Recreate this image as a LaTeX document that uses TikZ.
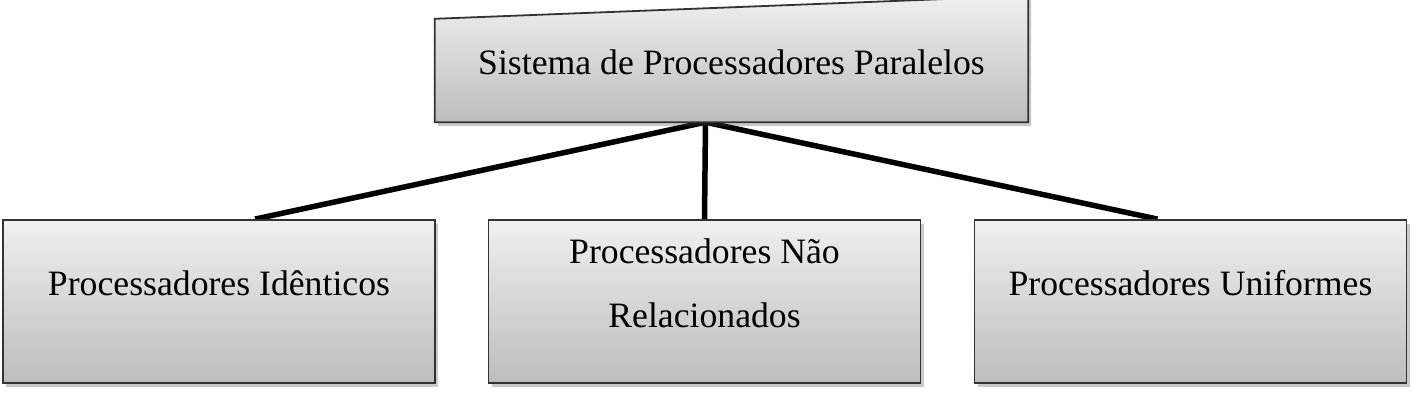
\documentclass[tikz,border=0pt]{standalone}
\usepackage{fontspec}
\setmainfont{Liberation Serif}
\usetikzlibrary{shadows,calc,backgrounds}
\begin{document}
\begin{tikzpicture}[x=1pt,y=-1pt,
  box/.style={draw=black!80, line width=1.8pt, top color=gray!12, bottom color=gray!52,
    minimum width=432pt, minimum height=163pt, inner sep=0pt, align=center,
    font=\fontsize{35.7}{64}\selectfont,
    drop shadow={shadow xshift=3pt, shadow yshift=-4pt, opacity=0.3, fill=black!70}},
  link/.style={line width=5.5pt}]
\useasboundingbox (0,0) rectangle (1425,402);
\node [minimum width=593pt, minimum height=103pt, inner sep=0pt, text height=24pt, text depth=17pt,
  font=\fontsize{35.7}{64}\selectfont] (sis) at (731.5,70.5) {Sistema de Processadores Paralelos};
\node [box, text height=24pt, text depth=37pt] (ide) at (219,301.5) {Processadores Idênticos};
\node [box, text height=88pt, text depth=37pt] (nao) at (704.5,301.5) {Processadores Não\\Relacionados};
\node [box, text height=24pt, text depth=37pt] (uni) at (1190.5,301.5) {Processadores Uniformes};
\coordinate (hub) at ($(sis.south)+(-26,0)$);
\begin{pgfonlayer}{background}
  \draw[link] (hub) -- ($(ide.north)+(36,0)$);
  \draw[link] (hub) -- (nao.north);
  \draw[link] (hub) -- ($(uni.north)+(-33,0)$);
  % top box, its upper edge slants up to the right
  \path[draw=black!80, line width=1.8pt, top color=gray!12, bottom color=gray!52,
    drop shadow={shadow xshift=3pt, shadow yshift=-4pt, opacity=0.3, fill=black!70}]
    (sis.north west) -- ($(sis.north east)+(0,-23)$) -- (sis.south east) -- (sis.south west) -- cycle;
\end{pgfonlayer}
\end{tikzpicture}
\end{document}
